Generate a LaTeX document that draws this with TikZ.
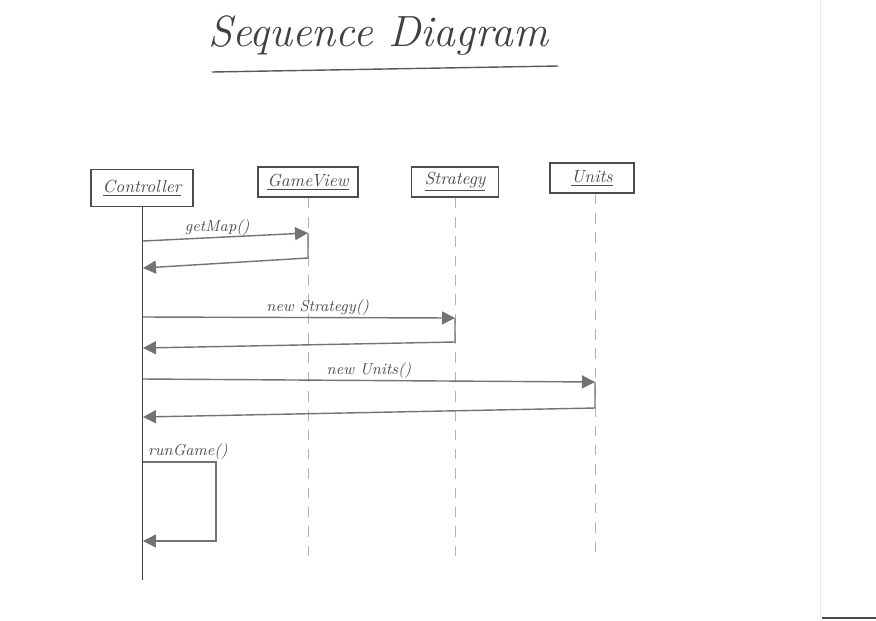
\documentclass[tikz,border=0pt]{standalone}
\usepackage{tikz}
\usetikzlibrary{arrows.meta,positioning,calc}

\tikzset{
  title/.style={font=\Huge\itshape, text=black!75},
  obj/.style={draw=black!70, thick, minimum height=0.6cm, inner sep=2pt, font=\itshape, text=black!70},
  life/.style={black!30, dashed, dash pattern=on 6pt off 5pt},
  msg/.style={black!55, thick, -{Triangle[length=0.26cm, width=0.26cm]}},
  lbl/.style={font=\small\itshape, text=black!70, inner sep=1pt}
}

\begin{document}
\begin{tikzpicture}[x=0.02cm, y=-0.02cm]
    \useasboundingbox (0,0) rectangle (876,620);

    % Title
    \node[title] (title) at (378,36) {Sequence Diagram};
    \coordinate (ulA) at (212,72);
    \coordinate (ulB) at (558,66);
    \draw[black!65, thick] (ulA) -- (ulB);

    % Objects
    \node[obj, minimum width=2.04cm, minimum height=0.74cm] (ctrl) at (142,188) {\underline{Controller}};
    \node[obj, minimum width=2.0cm] (view) at (308,182) {\underline{GameView}};
    \node[obj, minimum width=1.74cm] (strat) at (455,182) {\underline{Strategy}};
    \node[obj, minimum width=1.68cm] (units) at (592,178) {\underline{Units}};

    % Lifelines
    \coordinate (ctrlEnd) at (142,580);
    \coordinate (viewEnd) at (308,560);
    \coordinate (stratEnd) at (455,560);
    \coordinate (unitsEnd) at (595,560);
    \draw[black!75] (ctrl) -- (ctrlEnd);
    \draw[life] (view) -- (viewEnd);
    \draw[life] (strat) -- (stratEnd);
    \draw[life] (units.south -| unitsEnd) -- (unitsEnd);

    % getMap()
    \coordinate (m1a) at (143,241);
    \coordinate (m1b) at (308,233);
    \coordinate (r1a) at (308,258);
    \coordinate (r1b) at (143,268);
    \draw[msg] (m1a) -- node[lbl, above, pos=0.45] (m1lbl) {getMap()} (m1b);
    \draw[msg] (m1b) -- (r1a) -- (r1b);

    % new Strategy()
    \coordinate (m2a) at (143,317);
    \coordinate (m2b) at (455,318);
    \coordinate (r2a) at (455,342);
    \coordinate (r2b) at (143,348);
    \draw[msg] (m2a) -- node[lbl, above, pos=0.56] (m2lbl) {new Strategy()} (m2b);
    \draw[msg] (m2b) -- (r2a) -- (r2b);

    % new Units()
    \coordinate (m3a) at (143,379);
    \coordinate (m3b) at (595,382);
    \coordinate (r3a) at (595,408);
    \coordinate (r3b) at (143,417);
    \draw[msg] (m3a) -- node[lbl, above, pos=0.5] (m3lbl) {new Units()} (m3b);
    \draw[msg] (m3b) -- (r3a) -- (r3b);

    % runGame() self call
    \coordinate (g1) at (143,462);
    \coordinate (g2) at (216,462);
    \coordinate (g3) at (216,541);
    \coordinate (g4) at (143,541);
    \node[lbl, anchor=south west] (glbl) at (146,462) {runGame()};
    \draw[msg] (g1) -- (g2) -- (g3) -- (g4);

    % scan edge
    \coordinate (edgeA) at (820,0);
    \coordinate (edgeB) at (820,620);
    \draw[black!8] (edgeA) -- (edgeB);
    \coordinate (barA) at (822,618);
    \coordinate (barB) at (876,618);
    \draw[black!70, thick] (barA) -- (barB);
\end{tikzpicture}
\end{document}
